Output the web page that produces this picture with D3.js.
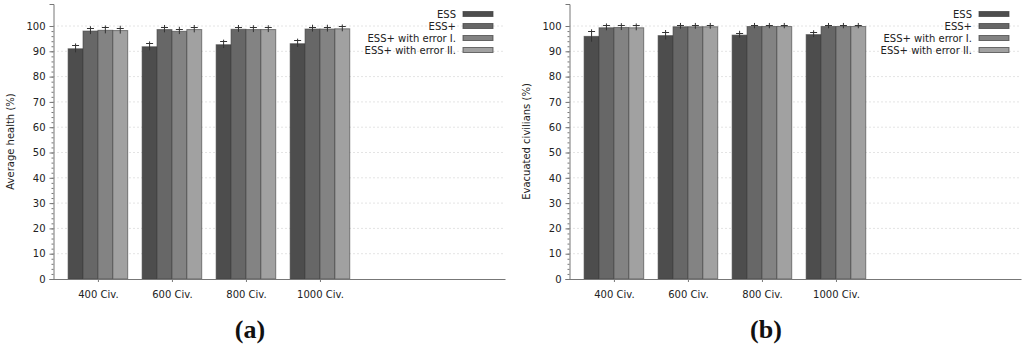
<!DOCTYPE html>
<html>
<head>
<meta charset="utf-8">
<script src="https://cdn.jsdelivr.net/npm/d3@7"></script>
<style>
  body { margin: 0; background: #fff; }
  svg { display: block; font-family: "DejaVu Sans", Verdana, sans-serif; }
</style>
</head>
<body>
<svg id="chart" width="1024" height="347"></svg>
<script>
var categories = ["400 Civ.", "600 Civ.", "800 Civ.", "1000 Civ."];
var seriesNames = ["ESS", "ESS+", "ESS+ with error I.", "ESS+ with error II."];
var seriesColors = ["#4d4d4d", "#676767", "#838383", "#a1a1a1"];

// average health (%) per series, one value per category
var healthESS = [91.0, 91.8, 92.6, 93.0];
var healthESSPlus = [98.0, 98.6, 98.7, 98.8];
var healthErrI = [98.3, 97.9, 98.6, 98.8];
var healthErrII = [98.2, 98.6, 98.6, 98.9];
var healthErrESS = [1.4, 1.4, 1.3, 1.3];
var healthErrPlus = [1.2, 1.1, 1.0, 1.0];

// evacuated civilians (%)
var evacESS = [95.9, 96.2, 96.4, 96.6];
var evacESSPlus = [99.3, 99.7, 99.8, 99.8];
var evacErrI = [99.4, 99.7, 99.8, 99.8];
var evacErrII = [99.3, 99.7, 99.8, 99.8];
var evacErrESS = [2.1, 1.5, 1.0, 1.0];
var evacErrPlus = [1.0, 0.8, 0.7, 0.7];

var yTicks = [0, 10, 20, 30, 40, 50, 60, 70, 80, 90, 100];
var yMinorTicks = d3.range(0, 101, 2);

var panels = [
    {x: 0, label: "Average health (%)", letter: "(a)",
     values: [healthESS, healthESSPlus, healthErrI, healthErrII],
     errors: [healthErrESS, healthErrPlus, healthErrPlus, healthErrPlus]},
    {x: 516, label: "Evacuated civilians (%)", letter: "(b)",
     values: [evacESS, evacESSPlus, evacErrI, evacErrII],
     errors: [evacErrESS, evacErrPlus, evacErrPlus, evacErrPlus]}
];

var svg = d3.select("#chart");

var margin = {left: 53.5, right: 505, top: 4, bottom: 279};

var xScale = d3.scaleLinear().domain([-0.6, 5.5]).range([margin.left, margin.right]),
    yScale = d3.scaleLinear().domain([0, 108.7]).range([margin.bottom, margin.top]);

var groupWidth = 0.805;
var sub = d3.scaleBand().domain(d3.range(seriesNames.length))
    .range([-groupWidth / 2, groupWidth / 2]);

function drawPanel(p) {
    var g = svg.append("g").attr("transform", "translate(" + p.x + ",0)");

    // dotted grid
    g.append("g").selectAll("line")
        .data(yTicks.slice(1))
        .enter().append("line")
        .attr("x1", margin.left)
        .attr("x2", margin.right)
        .attr("y1", function(d) { return yScale(d); })
        .attr("y2", function(d) { return yScale(d); })
        .attr("stroke", "#c8c8c8")
        .attr("stroke-width", 1)
        .attr("stroke-dasharray", "1,3");

    // bars
    var rows = [];
    p.values.forEach(function(vals, s) {
        vals.forEach(function(v, c) {
            rows.push({s: s, c: c, v: v, e: p.errors[s][c]});
        });
    });

    function bx(d) { return xScale(d.c + sub(d.s)); }
    var bw = xScale(sub.bandwidth()) - xScale(0);

    g.selectAll(".bar")
        .data(rows)
        .enter().append("rect")
        .attr("class", "bar")
        .attr("x", bx)
        .attr("y", function(d) { return yScale(d.v); })
        .attr("width", bw)
        .attr("height", function(d) { return yScale(0) - yScale(d.v); })
        .attr("fill", function(d) { return seriesColors[d.s]; })
        .attr("stroke", "#3c3c3c")
        .attr("stroke-opacity", 0.6)
        .attr("stroke-width", 1);

    // error bars, cap at value+error, stem poking a bit above it
    var eb = g.selectAll(".err")
        .data(rows)
        .enter().append("g")
        .attr("class", "err")
        .attr("stroke", "#333")
        .attr("stroke-width", 1);
    eb.append("line")
        .attr("x1", function(d) { return bx(d) + bw / 2; })
        .attr("x2", function(d) { return bx(d) + bw / 2; })
        .attr("y1", function(d) { return yScale(d.v - d.e); })
        .attr("y2", function(d) { return yScale(d.v + d.e) - 1.8; });
    eb.append("line")
        .attr("x1", function(d) { return bx(d) + bw / 2 - 3.5; })
        .attr("x2", function(d) { return bx(d) + bw / 2 + 3.5; })
        .attr("y1", function(d) { return Math.round(yScale(d.v + d.e)) + 0.5; })
        .attr("y2", function(d) { return Math.round(yScale(d.v + d.e)) + 0.5; });

    // axes
    g.append("g")
        .attr("transform", "translate(" + margin.left + ",0)")
        .call(d3.axisLeft(yScale).tickValues(yTicks).tickSize(4).tickPadding(4).tickFormat(d3.format("d")));
    g.append("g")
        .attr("transform", "translate(" + margin.left + ",0)")
        .call(d3.axisLeft(yScale).tickValues(yMinorTicks).tickSize(2).tickFormat(""))
        .select(".domain").remove();

    g.append("g")
        .attr("transform", "translate(0," + margin.bottom + ")")
        .call(d3.axisBottom(xScale).tickValues(d3.range(categories.length))
            .tickSize(3).tickPadding(9).tickSizeOuter(0)
            .tickFormat(function(i) { return categories[i]; }));

    g.selectAll(".domain").attr("stroke", "#777");
    g.selectAll(".tick line").attr("stroke", "#777");
    g.selectAll(".tick text").attr("fill", "#222").style("font-size", "10px")
        .style("font-family", "'DejaVu Sans', sans-serif");

    // y label
    g.append("text")
        .attr("transform", "translate(10," + ((margin.top + margin.bottom) / 2) + ") rotate(-90)")
        .attr("text-anchor", "middle")
        .attr("dy", "0.35em")
        .attr("fill", "#222")
        .style("font-size", "10px")
        .text(p.label);

    // legend
    var lg = g.append("g").attr("transform", "translate(456,14)");
    var item = lg.selectAll("g")
        .data(seriesNames)
        .enter().append("g")
        .attr("transform", function(d, i) { return "translate(0," + (i * 12) + ")"; });
    item.append("text")
        .attr("text-anchor", "end")
        .attr("dy", "0.35em")
        .attr("fill", "#222")
        .style("font-size", "10px")
        .text(function(d) { return d; });
    item.append("rect")
        .attr("x", 7)
        .attr("y", -2.5)
        .attr("width", 30)
        .attr("height", 5)
        .attr("fill", function(d, i) { return seriesColors[i]; })
        .attr("stroke", "#3c3c3c")
        .attr("stroke-opacity", 0.7);

    // panel letter
    g.append("text")
        .attr("x", 250)
        .attr("y", 338)
        .attr("text-anchor", "middle")
        .style("font-family", "'Liberation Serif', 'Times New Roman', serif")
        .style("font-weight", "bold")
        .style("font-size", "26px")
        .attr("fill", "#111")
        .text(p.letter);
}

panels.forEach(drawPanel);
</script>
</body>
</html>
